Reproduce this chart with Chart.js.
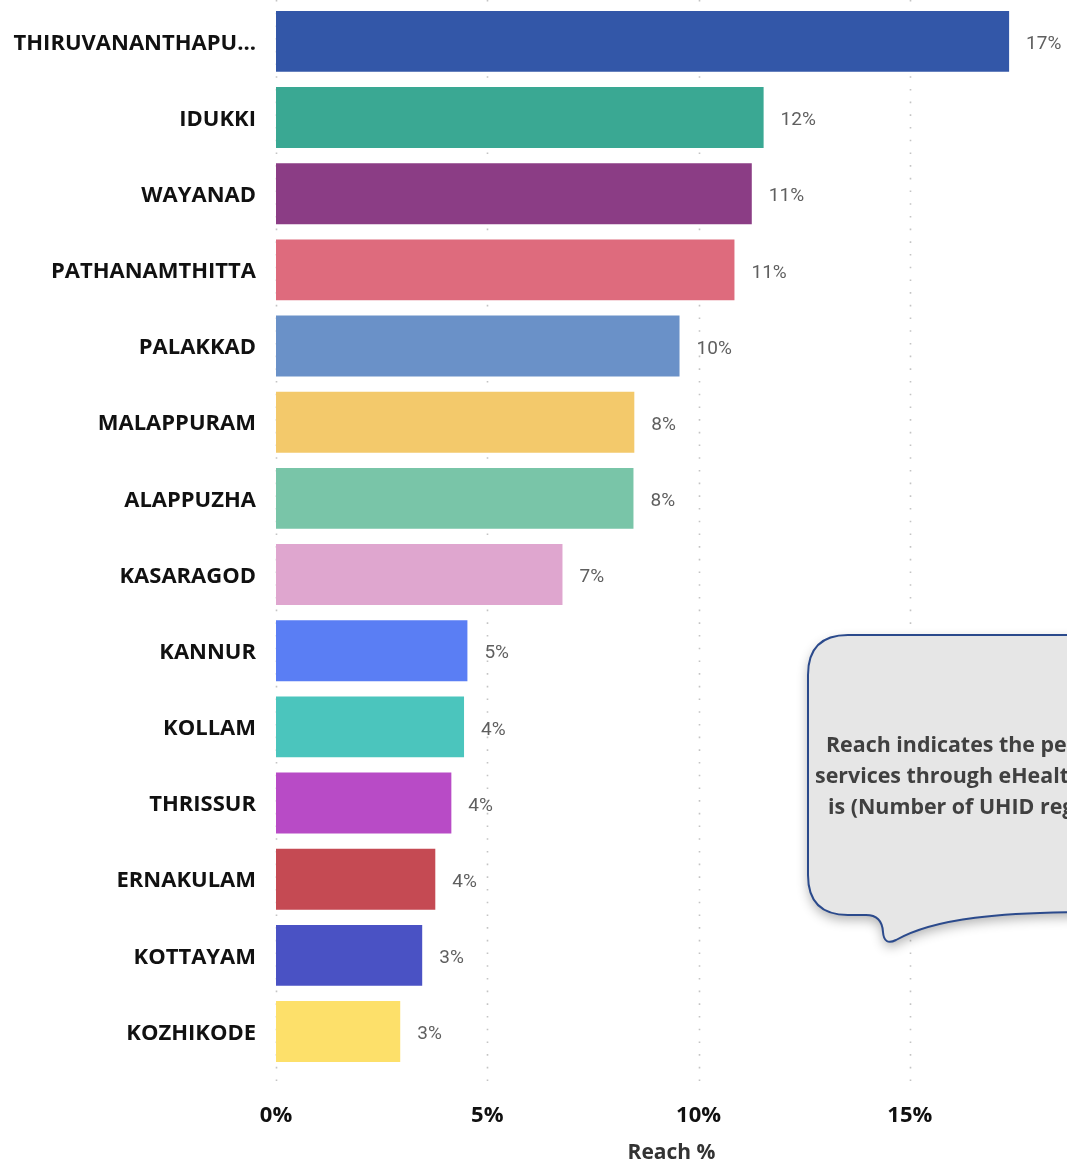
<!DOCTYPE html>
<html>
<head>
<meta charset="utf-8">
<script src="https://cdn.jsdelivr.net/npm/chart.js@4.4.1/dist/chart.umd.min.js"></script>
<style>
  html, body { margin: 0; padding: 0; background: #fff; }
  #wrap { position: relative; width: 1067px; height: 1164px; }
</style>
</head>
<body>
<div id="wrap"><canvas id="c"></canvas></div>
<script>
const districts = ["THIRUVANANTHAPU...", "IDUKKI", "WAYANAD", "PATHANAMTHITTA", "PALAKKAD", "MALAPPURAM", "ALAPPUZHA", "KASARAGOD", "KANNUR", "KOLLAM", "THRISSUR", "ERNAKULAM", "KOTTAYAM", "KOZHIKODE"];
const reachPct = [17.35, 11.54, 11.26, 10.85, 9.55, 8.48, 8.46, 6.78, 4.53, 4.45, 4.15, 3.77, 3.46, 2.94];
const barColors = ["#3357A8", "#3AA893", "#8B3D85", "#DE6B7D", "#6A91C8", "#F3C96B", "#79C5A8", "#DFA6CF", "#5A7EF4", "#4BC5BD", "#B84BC6", "#C54A53", "#4A52C4", "#FDE06A"];
const xTickValues = [0, 5, 10, 15];
const axisTitle = "Reach %";
const calloutLines = ["Reach indicates the percentage", "services through eHealth", "is (Number of UHID registered"];

const dottedGrid = {
  id: 'dottedGrid',
  beforeDatasetsDraw(chart) {
    const ctx = chart.ctx;
    const x = chart.scales.x;
    ctx.save();
    ctx.strokeStyle = '#C4C4C4';
    ctx.lineWidth = 1.6;
    ctx.setLineDash([1.6, 11.1]);
    xTickValues.forEach(v => {
      const px = Math.round(x.getPixelForValue(v)) + 0.5;
      ctx.beginPath();
      ctx.moveTo(px, 0);
      ctx.lineTo(px, 1092);
      ctx.stroke();
    });
    ctx.restore();
  }
};

const dataLabels = {
  id: 'dataLabels',
  afterDatasetsDraw(chart) {
    const ctx = chart.ctx;
    const meta = chart.getDatasetMeta(0);
    ctx.save();
    ctx.font = '19px Roboto';
    ctx.fillStyle = '#5F5F5F';
    ctx.textAlign = 'left';
    ctx.textBaseline = 'middle';
    meta.data.forEach((bar, i) => {
      ctx.fillText(Math.round(reachPct[i]) + '%', bar.x + 17, bar.y + 3);
    });
    ctx.restore();
  }
};

const callout = {
  id: 'callout',
  afterDraw(chart) {
    const ctx = chart.ctx;
    ctx.save();
    ctx.beginPath();
    ctx.moveTo(808, 675);
    ctx.quadraticCurveTo(808, 635, 848, 635);
    ctx.lineTo(1100, 635);
    ctx.lineTo(1100, 912);
    ctx.bezierCurveTo(1000, 912, 935, 918, 896, 940);
    ctx.quadraticCurveTo(884, 946, 883, 932);
    ctx.quadraticCurveTo(882, 915, 866, 915);
    ctx.lineTo(848, 915);
    ctx.quadraticCurveTo(808, 915, 808, 875);
    ctx.closePath();
    ctx.shadowColor = 'rgba(0,0,0,0.30)';
    ctx.shadowBlur = 12;
    ctx.shadowOffsetY = 5;
    ctx.fillStyle = '#E6E6E6';
    ctx.fill();
    ctx.shadowColor = 'transparent';
    ctx.lineWidth = 2;
    ctx.strokeStyle = '#2B4A8C';
    ctx.stroke();
    ctx.font = 'bold 21.4px "Open Sans"';
    ctx.fillStyle = '#404040';
    ctx.textBaseline = 'middle';
    ctx.textAlign = 'left';
    ctx.fillText(calloutLines[0], 826, 746);
    ctx.fillText(calloutLines[1], 815, 777);
    ctx.fillText(calloutLines[2], 828, 808);
    ctx.restore();
  }
};

new Chart(document.getElementById('c'), {
  type: 'bar',
  data: {
    labels: districts,
    datasets: [{
      data: reachPct,
      backgroundColor: barColors,
      borderWidth: 0,
      categoryPercentage: 0.8,
      barPercentage: 1.0
    }]
  },
  options: {
    indexAxis: 'y',
    responsive: true,
    maintainAspectRatio: false,
    animation: false,
    devicePixelRatio: 1,
    layout: { padding: { top: 0, right: 0, left: 0, bottom: 0 } },
    plugins: { legend: { display: false }, tooltip: { enabled: false } },
    scales: {
      x: {
        min: 0,
        max: 18.72,
        afterBuildTicks(scale) {
          scale.ticks = xTickValues.map(v => ({ value: v }));
        },
        afterFit(scale) { scale.height = 94.4; },
        border: { display: false },
        grid: { display: false, drawTicks: false },
        ticks: {
          padding: 33,
          color: '#111111',
          font: { family: '"Open Sans"', size: 22, weight: 'bold' },
          callback: v => v + '%'
        },
        title: {
          display: true,
          text: axisTitle,
          color: '#333333',
          font: { family: '"Open Sans"', size: 21, weight: 'bold', lineHeight: 1 },
          padding: { top: 14, bottom: 0 }
        }
      },
      y: {
        border: { display: false },
        grid: { display: false, drawTicks: true, tickLength: 20 },
        afterFit(scale) { scale.width = 276; },
        ticks: {
          padding: 0,
          labelOffset: 2,
          color: '#111111',
          font: { family: '"Open Sans"', size: 22, weight: 'bold', lineHeight: 0.3 }
        }
      }
    }
  },
  plugins: [dottedGrid, dataLabels, callout]
});
</script>
</body>
</html>
